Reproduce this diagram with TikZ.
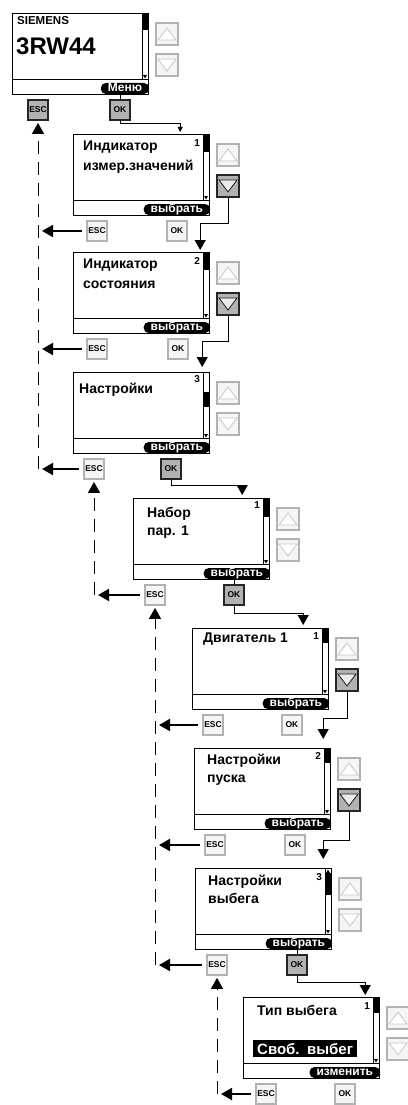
\documentclass[tikz,border=0pt]{standalone}
\usepackage{fontspec}
\setmainfont{Liberation Sans}
\usetikzlibrary{arrows.meta,calc}

\tikzset{
  screen/.style={draw, line width=1.2pt, minimum width=136pt, minimum height=81pt,
    anchor=north west, inner sep=0pt},
  pill/.style={fill=black, text=white, rounded corners=5pt, anchor=south east,
    inner xsep=7pt, inner ysep=0pt, minimum height=11pt, text height=6.5pt,
    text depth=0pt, font=\fontsize{12}{12}\selectfont\bfseries},
  key/.style={draw=black!30, fill=black!4, line width=1.8pt, minimum size=20pt,
    inner sep=0pt, font=\fontsize{8.5}{8.5}\selectfont\bfseries},
  keyon/.style={key, draw=black!85, fill=black!30},
  trikey/.style={draw=black!22, fill=white, line width=0.8pt},
  trikeyon/.style={draw=black!90, fill=black!8, line width=0.8pt},
  title/.style={anchor=base west, inner sep=0pt, font=\fontsize{14}{14}\selectfont\bfseries},
  num/.style={anchor=north east, inner sep=0pt, font=\fontsize{10}{10}\selectfont\bfseries},
  fwd/.style={line width=1pt, -{Triangle[width=11pt,length=10pt]}},
  back/.style={line width=2pt, -{Triangle[width=12pt,length=11pt]}},
  backline/.style={line width=1pt, dash pattern=on 13pt off 8pt,
    -{Triangle[width=12pt,length=11pt]}}
}

\begin{document}
\begin{tikzpicture}[x=1pt, y=-1pt]
  \useasboundingbox (0,0) rectangle (407,1105);

  % -- screens: frame, separator, scroll bar, arrow keys, ESC and OK --
  \foreach \i/\x/\y/\sa/\sb/\dn/\esc/\ok/\ex/\ox in {
      0/12/13/0/17/key/keyon/keyon/26/108,
      1/73/134/0/18/keyon/key/key/24/104,
      2/73/252/0/18/keyon/key/key/24/105,
      3/73/372/20/35/key/key/keyon/21/98,
      4/133/498/0/19/key/key/keyon/22/101,
      5/192/628/0/15/keyon/key/key/21/100,
      6/194/748/0/15/keyon/key/key/21/101,
      7/195/868/5/27/key/key/keyon/22/102,
      8/243/997/0/16/key/key/key/23/102}{
    \node[screen] (s\i) at (\x,\y) {};
    \draw[line width=0.8pt] (\x,\y+66) -- (\x+136,\y+66);
    \draw[line width=0.6pt] (\x+130,\y) rectangle (\x+136,\y+66);
    \fill (\x+130,\y+\sa) rectangle (\x+136,\y+\sb);
    \fill (\x+131,\y+62) -- (\x+135,\y+62) -- (\x+133,\y+65.5) -- cycle;
    \node[key, minimum size=22pt] (u\i) at (\x+155,\y+21) {};
    \node[\dn, minimum size=22pt] (d\i) at (\x+155,\y+52) {};
    \draw[trikey] (u\i.center) ++(0,-6) -- ++(9,12) -- ++(-18,0) -- cycle;
    \draw[tri\dn] (d\i.center) ++(0,6) -- ++(9,-12) -- ++(-18,0) -- cycle;
    \node[\esc] (esc\i) at (\x+\ex,\y+97) {ESC};
    \node[\ok] (ok\i) at (\x+\ox,\y+97) {OK};
  }
  % scroll bar of screen 7 has an up mark too
  \fill (326,873) -- (330,873) -- (328,869.5) -- cycle;

  % -- screen texts --
  \node[anchor=base west, inner sep=0pt, font=\fontsize{11.5}{12}\selectfont\bfseries]
    (brand) at (17,25) {SIEMENS};
  \node[anchor=base west, inner sep=0pt, font=\fontsize{24}{24}\selectfont\bfseries]
    (model) at (16,55) {3RW44};
  \node[pill] (p0) at ([yshift=1pt]s0.south east) {Меню};

  \node[title] (t1) at (83,150) {Индикатор};
  \node[title] (t1b) at (83,170) {измер.значений};
  \node[num] (n1) at ([xshift=-10pt,yshift=-5pt]s1.north east) {1};
  \node[pill] (p1) at ([yshift=1pt]s1.south east) {выбрать};

  \node[title] (t2) at (83,268) {Индикатор};
  \node[title] (t2b) at (83,288) {состояния};
  \node[num] (n2) at ([xshift=-10pt,yshift=-5pt]s2.north east) {2};
  \node[pill] (p2) at ([yshift=1pt]s2.south east) {выбрать};

  \node[title] (t3) at (79,393) {Настройки};
  \node[num] (n3) at ([xshift=-10pt,yshift=-3pt]s3.north east) {3};
  \node[pill] (p3) at ([yshift=1pt]s3.south east) {выбрать};

  \node[title] (t4) at (147,517) {Набор};
  \node[title] (t4b) at (147,535) {пар. 1};
  \node[num] (n4) at ([xshift=-10pt,yshift=-3pt]s4.north east) {1};
  \node[pill] (p4) at ([yshift=1pt]s4.south east) {выбрать};

  \node[title] (t5) at (203,642) {Двигатель 1};
  \node[num] (n5) at ([xshift=-10pt,yshift=-4pt]s5.north east) {1};
  \node[pill] (p5) at ([yshift=1pt]s5.south east) {выбрать};

  \node[title] (t6) at (207,764) {Настройки};
  \node[title] (t6b) at (207,782) {пуска};
  \node[num] (n6) at ([xshift=-10pt,yshift=-4pt]s6.north east) {2};
  \node[pill] (p6) at ([yshift=1pt]s6.south east) {выбрать};

  \node[title] (t7) at (208,885) {Настройки};
  \node[title] (t7b) at (208,903) {выбега};
  \node[num] (n7) at ([xshift=-10pt,yshift=-5pt]s7.north east) {3};
  \node[pill] (p7) at ([yshift=1pt]s7.south east) {выбрать};

  \node[title] (t8) at (257,1015) {Тип выбега};
  \node[num] (n8) at ([xshift=-10pt,yshift=-5pt]s8.north east) {1};
  \node[fill=black, text=white, anchor=north west, inner xsep=4pt, inner ysep=0pt,
    text width=96pt, minimum height=17pt, font=\fontsize{15}{15}\selectfont\bfseries]
    (val) at (253,1040) {Своб. выбег};
  \node[pill] (p8) at ([yshift=1pt]s8.south east) {изменить};

  % -- forward: OK / down key to the next screen --
  \draw[line width=1pt] (p0.south -| ok0) -- (ok0.north);
  \draw[line width=1pt, -{Triangle[width=5pt,length=5pt]}]
    (ok0.south) -- ++(0,3) -| ($(s1.north east)+(-30,-2)$);
  \draw[fwd] (d1.south) -- ++(0,26) -| ($(s2.north east)+(-10,-2)$);
  \draw[fwd] (d2.south) -- ++(0,26) -| ($(s3.north east)+(-8,-5)$);
  \draw[fwd] (ok3.south) -- ++(0,6) -| ($(s4.north east)+(-28,-3)$);
  \draw[line width=1pt] (p4.south -| ok4) -- (ok4.north);
  \draw[fwd] (ok4.south) -- ++(0,8) -| ($(s5.north east)+(-26,-3)$);
  \draw[fwd] (d5.south) -- ++(0,27) -| ($(s6.north east)+(-8,-9)$);
  \draw[fwd] (d6.south) -- ++(0,29) -| ($(s7.north east)+(-9,-9)$);
  \draw[line width=1pt] (p7.south -| ok7) -- (ok7.north);
  \draw[fwd] (ok7.south) -- ++(0,7) -| ($(s8.north east)+(-15,-2)$);

  % -- back: ESC to the dashed return lines --
  \foreach \a/\b in {1/0,2/0,3/0,4/3,5/4,6/4,7/4,8/7}
    \draw[back] ([xshift=-4pt]esc\a.west) -- ($(esc\a.west -| esc\b)+(4,0)$);
  \foreach \a/\b in {0/3,3/4,4/7,7/8}
    \draw[backline] (esc\a |- esc\b) -- ([yshift=-2pt]esc\a.south);

\end{tikzpicture}
\end{document}
